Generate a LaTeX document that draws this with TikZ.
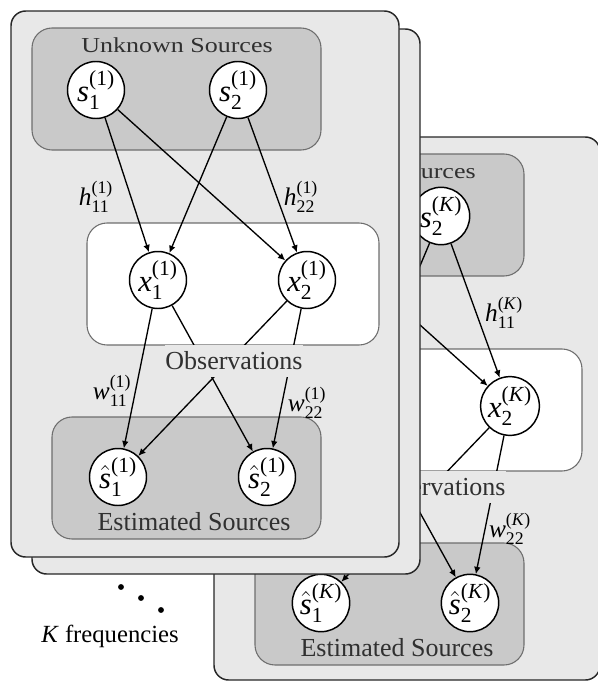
\documentclass[tikz,border=0pt]{standalone}
\usepackage{fontspec}
\setmainfont{Liberation Serif}
\usepackage{amsmath}
\usetikzlibrary{arrows.meta}
\definecolor{panelbg}{HTML}{E8E8E8}
\definecolor{boxbg}{HTML}{C9C9C9}
\definecolor{boxln}{HTML}{6E6E6E}
\definecolor{ttl}{HTML}{303030}
\tikzset{
  panel/.style={draw=black!85, fill=panelbg, line width=1.1pt, rounded corners=11pt},
  srcbox/.style={draw=boxln, fill=boxbg, line width=0.8pt, rounded corners=15pt},
  obsbox/.style={draw=boxln, fill=white, line width=0.8pt, rounded corners=15pt},
  ttlfont/.style={text=ttl, font=\fontsize{19.5}{22}\selectfont, inner sep=1pt},
  var/.style={circle, draw=black, fill=white, line width=1.1pt, minimum size=42.75pt, inner sep=0pt, font=\fontsize{23}{26}\selectfont},
  elab/.style={font=\fontsize{19}{21}\selectfont, inner sep=0pt},
  arr/.style={line width=1pt, -{Latex[length=5.5pt,width=5pt]}},
}
\newcommand\panelbody[4]{%
  \draw[srcbox] (32,28) rectangle (321,150);
  \node[ttlfont] (#1ut) at (177,45) {\scalebox{1}[0.82]{Unknown Sources}};
  \draw[obsbox] (87,223) rectangle (379,345);
  \draw[srcbox] (52,417) rectangle (321,539);
  \node[ttlfont] (#1et) at (194,522) {Estimated Sources};
  \node[var] (#1s1) at (96,90) {$\textit{s}_{\text{1}}^{\text{(#2)}}$};
  \node[var] (#1s2) at (238,90) {$\textit{s}_{\text{2}}^{\text{(#2)}}$};
  \node[var] (#1x1) at (158,280) {$\textit{x}_{\text{1}}^{\text{(#2)}}$};
  \node[var] (#1x2) at (307,280) {$\textit{x}_{\text{2}}^{\text{(#2)}}$};
  \node[var] (#1e1) at (118,477) {$\hat{\textit{s}}_{\text{1}}^{\text{(#2)}}$};
  \node[var] (#1e2) at (267,477) {$\hat{\textit{s}}_{\text{2}}^{\text{(#2)}}$};
  \draw[arr] (#1s1) -- (#1x1);
  \draw[arr] (#1s1) -- (#1x2);
  \draw[arr] (#1s2) -- (#1x1);
  \draw[arr] (#1s2) -- (#1x2);
  \draw[arr] (#1x1) -- (#1e1);
  \draw[arr] (#1x1) -- (#1e2);
  \draw[arr] (#1x2) -- (#1e1);
  \draw[arr] (#1x2) -- (#1e2);
  \node[ttlfont, fill=panelbg, inner sep=0pt, minimum height=24pt] (#1ot) at (234,361) {Observations};
  \node[elab] (#1h1) at (96,197) {$\textit{h}_{\text{11}}^{\text{(#2)}}$};
  \node[elab] (#1h2) at (301,#4) {$\textit{h}_{\text{#3}}^{\text{(#2)}}$};
  \node[elab] (#1w1) at (112,391) {$\textit{w}_{\text{11}}^{\text{(#2)}}$};
  \node[elab] (#1w2) at (307,403) {$\textit{w}_{\text{22}}^{\text{(#2)}}$};
}
\begin{document}
\begin{tikzpicture}[x=0.75pt, y=-0.75pt]
  \useasboundingbox (0,0) rectangle (598,682);
  \clip (0,0) rectangle (598,682);
  % K-th frequency panel (back)
  \draw[panel] (214,137) rectangle (600,680);
  \begin{scope}[shift={(203,126)}]
    \panelbody{k}{\textit{K}}{11}{187}
  \end{scope}
  % second panel
  \draw[panel] (32,29) rectangle (420,574);
  % front panel
  \draw[panel] (11,11) rectangle (399,557);
  \panelbody{f}{1}{22}{197}
  % dots
  \fill (121,587) circle (2.2pt);
  \fill (141,598) circle (2.2pt);
  \fill (161,610) circle (2.2pt);
  \node[font=\fontsize{18.5}{21}\selectfont, inner sep=0pt] (kf) at (110,636) {\textit{K} frequencies};
\end{tikzpicture}
\end{document}
